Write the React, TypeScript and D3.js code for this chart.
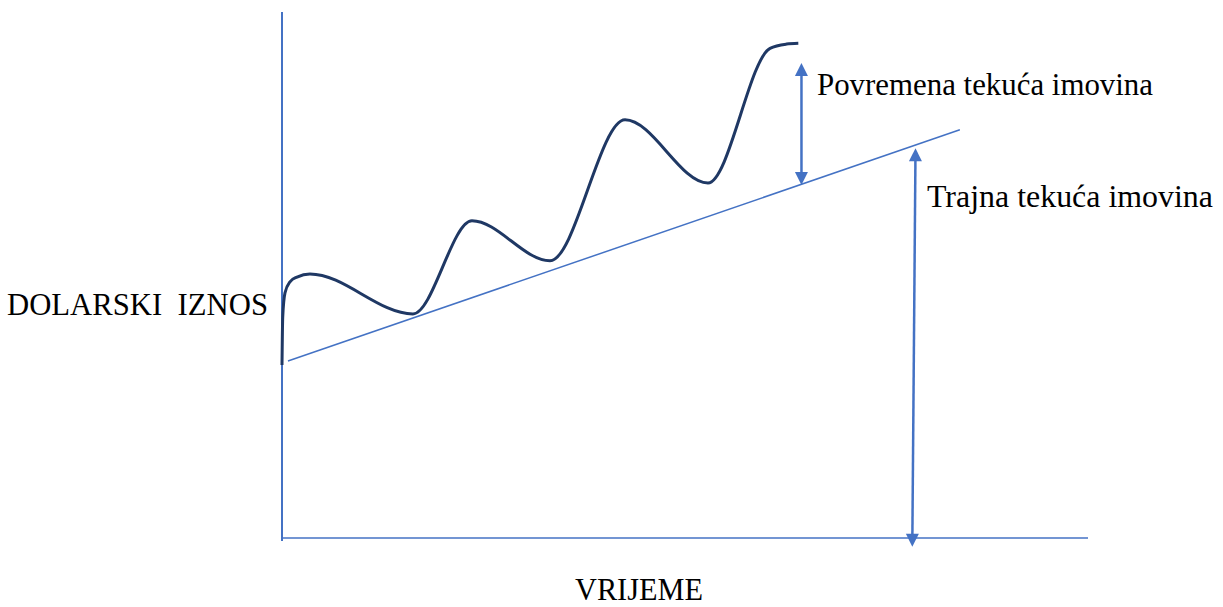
import * as d3 from "d3";

const FONT = "'Liberation Serif', 'Times New Roman', serif";
const AXIS_BLUE = "#4472C4";
const CURVE_NAVY = "#1F3864";

// vrijeme / iznos u proizvoljnim jedinicama (0..100)
const waveT = [0, 0.09, 0.37, 0.99, 1.86, 3.47, 16.25, 23.57, 33.25, 42.56, 52.85, 60.55, 62.6, 64.06];
const waveV = [32.9, 42.0, 46.6, 48.7, 49.6, 50.2, 42.6, 60.3, 52.7, 79.5, 67.5, 93.1, 93.9, 94.05];

const trendT = [0.74, 84.1];
const trendV = [33.65, 77.6];

// dvostruke strelice: [t1, v1, t2, v2]
const tempArrow = [64.45, 90.3, 64.45, 67.1];
const permArrow = [78.6, 74.1, 78.2, -1.65];

const labels = {
  y: "DOLARSKI  IZNOS",
  x: "VRIJEME",
  temp: "Povremena tekuća imovina",
  perm: "Trajna tekuća imovina",
};

const W = 1223;
const H = 607;

export default function App() {
  const x = d3.scaleLinear().domain([0, 100]).range([282, 1088]);
  const y = d3.scaleLinear().domain([0, 100]).range([538, 12]);

  const pts = waveT.map((t, i) => [t, waveV[i]] as [number, number]);
  const wavePath = d3
    .line<[number, number]>()
    .x((d) => x(d[0]))
    .y((d) => y(d[1]))
    .curve(d3.curveMonotoneX)(pts);

  const arrow = (a: number[], key: string) => {
    const x1 = x(a[0]), y1 = y(a[1]), x2 = x(a[2]), y2 = y(a[3]);
    const ang = Math.atan2(y2 - y1, x2 - x1);
    const len = 13, half = 6.5;
    const head = (px: number, py: number, dir: number) => {
      const bx = px - Math.cos(dir) * len, by = py - Math.sin(dir) * len;
      const nx = -Math.sin(dir) * half, ny = Math.cos(dir) * half;
      return `M${px},${py}L${bx + nx},${by + ny}L${bx - nx},${by - ny}Z`;
    };
    return (
      <g key={key}>
        <line
          x1={x1 + Math.cos(ang) * 10} y1={y1 + Math.sin(ang) * 10}
          x2={x2 - Math.cos(ang) * 10} y2={y2 - Math.sin(ang) * 10}
          stroke={AXIS_BLUE} strokeWidth={2.5}
        />
        <path d={head(x1, y1, ang + Math.PI)} fill={AXIS_BLUE} />
        <path d={head(x2, y2, ang)} fill={AXIS_BLUE} />
      </g>
    );
  };

  return (
    <div style={{ position: "absolute", left: 0, top: 0 }}>
      <svg width={W} height={H} style={{ display: "block", background: "#fff" }}>
        {/* osi */}
        <line x1={x(0)} x2={x(0)} y1={y(100)} y2={y(0) + 3} stroke={AXIS_BLUE} strokeWidth={2} />
        <line x1={x(0)} x2={x(100)} y1={y(0)} y2={y(0)} stroke={AXIS_BLUE} strokeWidth={1.6} />

        {/* trend */}
        <line
          x1={x(trendT[0])} y1={y(trendV[0])}
          x2={x(trendT[1])} y2={y(trendV[1])}
          stroke={AXIS_BLUE} strokeWidth={1.5}
        />

        {/* ukupna tekuća imovina */}
        <path d={wavePath ?? ""} fill="none" stroke={CURVE_NAVY} strokeWidth={3} />

        {arrow(tempArrow, "temp")}
        {arrow(permArrow, "perm")}

        <g fontFamily={FONT} fontSize={31} fill="#000">
          <text x={7} y={315} textLength={261} lengthAdjust="spacingAndGlyphs" style={{ whiteSpace: "pre" }}>{labels.y}</text>
          <text x={575} y={600} textLength={128} lengthAdjust="spacingAndGlyphs">{labels.x}</text>
          <text x={817} y={95} textLength={336} lengthAdjust="spacingAndGlyphs">{labels.temp}</text>
          <text x={927} y={207} textLength={286} lengthAdjust="spacingAndGlyphs">{labels.perm}</text>
        </g>
      </svg>
    </div>
  );
}
